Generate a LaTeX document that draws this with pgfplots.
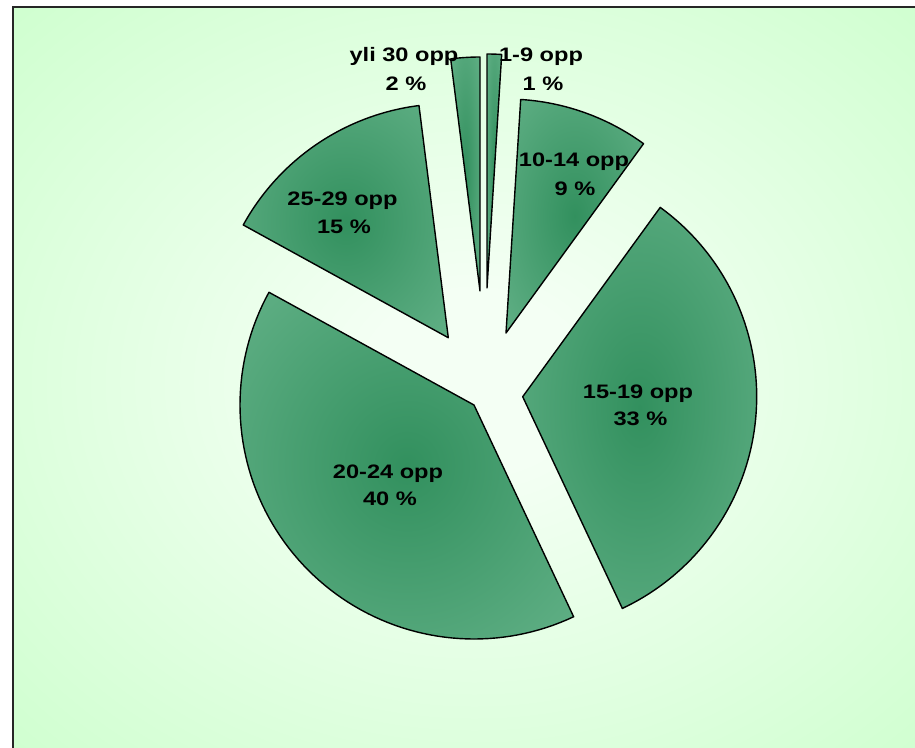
\documentclass[border=0pt]{standalone}
\usepackage{fontspec}
\setmainfont{Liberation Sans}
\usepackage{pgfplots}
\pgfplotsset{compat=1.18}
\definecolor{sliceIn}{RGB}{50,144,94}
\definecolor{sliceOut}{RGB}{116,189,150}
\definecolor{bgIn}{RGB}{244,255,244}
\definecolor{bgOut}{RGB}{204,255,204}
\pgfdeclareradialshading{sliceshade}{\pgfpoint{0bp}{0bp}}{color(0bp)=(sliceIn); color(50bp)=(sliceOut)}
\pgfdeclareradialshading{bgshade}{\pgfpoint{0bp}{0bp}}{color(0bp)=(bgIn); color(6bp)=(bgIn); color(38bp)=(bgOut); color(60bp)=(bgOut)}
\tikzset{lbl/.style={anchor=base, font=\fontsize{19.5}{23}\selectfont\bfseries, xscale=1.21, inner sep=0pt}}
\newcommand{\pieR}{234}
% #1 cumulative percent before slice, #2 slice percent, #3/#4 apex (pixel coords)
\newcommand{\slice}[4]{%
  \addplot[draw=black, line width=1.4pt, line join=round, shade, shading=sliceshade,
    samples at={-1,0,1,...,80,81}, variable=\t]
    ({#3+\pieR*(\t>-0.5)*(\t<80.5)*cos(90-3.6*(#1+#2*\t/80))},
     {#4-\pieR*(\t>-0.5)*(\t<80.5)*sin(90-3.6*(#1+#2*\t/80))}) -- cycle;}
\begin{document}
\begin{tikzpicture}
\begin{axis}[scale only axis, width=915pt, height=747pt,
  xmin=0, xmax=915, ymin=0, ymax=747, y dir=reverse, hide axis, clip=true]
\fill[white] (axis cs:0,0) rectangle (axis cs:915,747);
\shade[shading=bgshade] (axis cs:13,7) rectangle (axis cs:935,757);
\draw[line width=2pt, black!85] (axis cs:13,760) -- (axis cs:13,7) -- (axis cs:930,7);
\slice{0}{1}{487}{288}
\slice{1}{9}{506}{333}
\slice{10}{33}{522.7}{396.7}
\slice{43}{40}{474}{405}
\slice{83}{15}{448.3}{337.7}
\slice{98}{2}{480}{291}
\node[lbl] at (axis cs:541,61.7) {1-9 opp};
\node[lbl] at (axis cs:543,90.7) {1 \%};
\node[lbl] at (axis cs:574,166.7) {10-14 opp};
\node[lbl] at (axis cs:575,195) {9 \%};
\node[lbl] at (axis cs:638,398.3) {15-19 opp};
\node[lbl] at (axis cs:640.5,425) {33 \%};
\node[lbl] at (axis cs:388,478) {20-24 opp};
\node[lbl] at (axis cs:390,505) {40 \%};
\node[lbl] at (axis cs:342.5,205) {25-29 opp};
\node[lbl] at (axis cs:344,233) {15 \%};
\node[lbl] at (axis cs:404,61.7) {yli 30 opp};
\node[lbl] at (axis cs:406,90.7) {2 \%};
\end{axis}
\pgfresetboundingbox
\useasboundingbox (current axis.south west) rectangle (current axis.north east);
\end{tikzpicture}
\end{document}
